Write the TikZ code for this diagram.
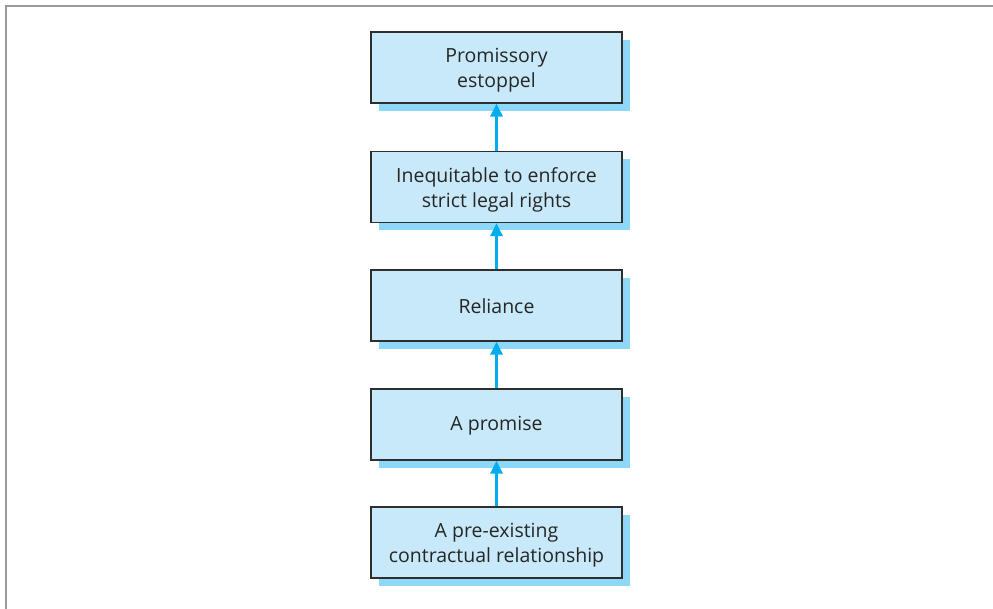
\documentclass[tikz,border=0pt]{standalone}
\usepackage{fontspec}
\setmainfont{Open Sans}
\usetikzlibrary{arrows.meta}
\definecolor{boxfill}{HTML}{C8E9F9}
\definecolor{shadowc}{HTML}{8DD8F8}
\definecolor{arrowc}{HTML}{00AEEF}
\definecolor{framec}{HTML}{9A9A9E}
\definecolor{edgec}{HTML}{2E2E2E}
\begin{document}
\begin{tikzpicture}[x=1pt,y=-1pt,
  stepbox/.style={draw=edgec,line width=1.3pt,fill=boxfill,minimum width=251pt,minimum height=71pt,inner sep=0pt},
  steptext/.style={align=center,inner sep=0pt,font=\fontsize{19.5}{25}\selectfont,text=black!85},
  shadowbox/.style={fill=shadowc,minimum width=251pt,minimum height=71pt,inner sep=0pt},
  link/.style={draw=arrowc,line width=3pt,-{Triangle[length=13pt,width=12pt]}}]
\useasboundingbox (0,0) rectangle (993,609);
\draw[framec,line width=2.6pt] (6,609) -- (6,6) -- (993,6);
\foreach \y in {67.5,187,305.5,424.5,542.5}{
  \node[shadowbox] at (504.5,\y+8) {};
}
\node[stepbox] (p) at (496.5,67.5) {};
\node[stepbox] (i) at (496.5,187) {};
\node[stepbox] (r) at (496.5,305.5) {};
\node[stepbox] (a) at (496.5,424.5) {};
\node[stepbox] (c) at (496.5,542.5) {};
\node[steptext] (pt) at ([yshift=-2.5pt]p.center) {Promissory\\estoppel};
\node[steptext] (it) at ([yshift=-2.5pt]i.center) {Inequitable to enforce\\strict legal rights};
\node[steptext] (rt) at ([yshift=-1pt]r.center) {Reliance};
\node[steptext] (at) at ([yshift=-1.5pt]a.center) {A promise};
\node[steptext] (ct) at ([yshift=-2.5pt]c.center) {A pre-existing\\contractual relationship};
\draw[link] (c) -- (a);
\draw[link] (a) -- (r);
\draw[link] (r) -- (i);
\draw[link] (i) -- (p);
\end{tikzpicture}
\end{document}
